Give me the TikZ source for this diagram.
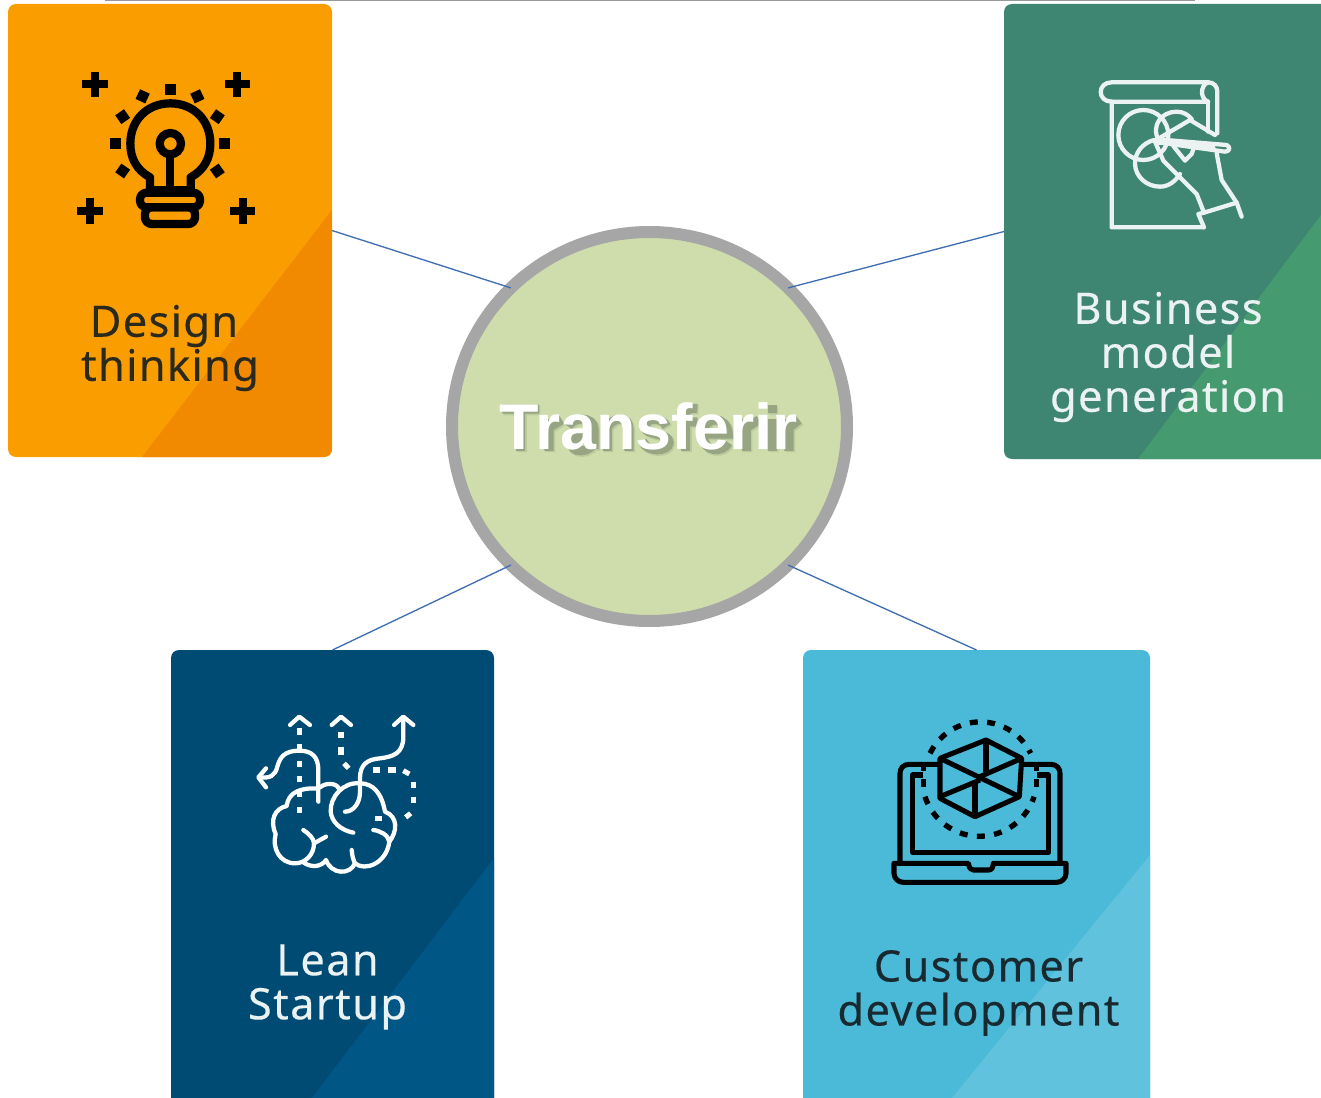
\documentclass[tikz,border=0pt]{standalone}
\usepackage{fontspec}
\usetikzlibrary{shapes.geometric}
\setmainfont{Liberation Sans}
\newfontfamily\cardfont[LetterSpace=3.2,FakeBold=0.25]{Noto Sans}
\definecolor{orangeA}{HTML}{F99D00}
\definecolor{orangeB}{HTML}{F28A00}
\definecolor{greenA}{HTML}{3F8672}
\definecolor{greenB}{HTML}{459A70}
\definecolor{navyA}{HTML}{004B73}
\definecolor{navyB}{HTML}{005685}
\definecolor{skyA}{HTML}{4BBAD8}
\definecolor{skyB}{HTML}{60C2DC}
\definecolor{hubfill}{HTML}{CEDDAB}
\definecolor{hubring}{HTML}{A6A6A6}
\definecolor{linkblue}{HTML}{3F6FB0}
\definecolor{inkdark}{HTML}{2A2A1C}
\definecolor{inksky}{HTML}{182A30}
\definecolor{inklight}{HTML}{EAF2F2}
\definecolor{shadeA}{HTML}{BCCB9F}
\definecolor{shadeB}{HTML}{97A582}
\tikzset{
  card/.style={rectangle,rounded corners=6pt,inner sep=0pt,outer sep=0pt},
  cardtext/.style={font=\cardfont\fontsize{32.5}{33}\selectfont,align=center,inner sep=0pt},
  link/.style={draw=linkblue,line width=1pt},
  hubnode/.style={ellipse,draw=hubring,fill=hubfill,line width=9pt,minimum width=296.25pt,minimum height=291.75pt,inner sep=0pt,outer sep=0pt},
  hubtext/.style={font=\fontsize{48.5}{50}\selectfont\bfseries,text=white,inner sep=0pt},
  iconlocal/.style={shift={(#1)},x=0.25pt,y=-0.25pt},
  thickicon/.style={line width=6.2pt,line join=round},
  thinicon/.style={line width=3.2pt,line join=round,line cap=round},
  laptopline/.style={line width=3.8pt,line join=round},
  dots/.style={line width=3.2pt}
}
\def\shadowletters{
  (30,70) -- (140,70) (85,70) -- (85,195)
  (170,100) -- (170,195) (170,125) -- (208,102)
  (228,122) .. controls (240,92) and (305,90) .. (305,130) -- (305,190)
  (305,145) .. controls (225,145) and (225,195) .. (265,195) .. controls (285,195) and (305,180) .. (305,165)
  (345,100) -- (345,195) (345,125) .. controls (365,90) and (410,90) .. (410,130) -- (410,195)
  (522,122) .. controls (510,90) and (455,95) .. (458,125) .. controls (462,150) and (530,140) .. (530,170) .. controls (530,200) and (460,200) .. (450,165)
  (580,195) -- (580,85) .. controls (580,70) and (595,65) .. (615,68) (555,108) -- (615,108)
  (628,145) -- (708,145) .. controls (705,90) and (635,85) .. (632,145) .. controls (632,205) and (695,200) .. (708,170)
  (762,100) -- (762,195) (762,125) -- (800,102)
  (840,100) -- (840,195) (840,58) -- (840,82)
  (890,100) -- (890,195) (890,125) -- (920,102)
}
\begin{document}
\begin{tikzpicture}[x=0.75pt,y=-0.75pt]
\clip (0,0) rectangle (1321,1098);
\fill[white] (0,0) rectangle (1321,1098);
\draw[color=black!40,line width=1.2pt] (105,0) -- (1195,0);
% cards
\node[card,fill=orangeA,minimum width=243pt,minimum height=339.75pt] (design) at (170,230.5) {};
\node[card,fill=greenA,minimum width=252pt,minimum height=341.25pt] (business) at (1172,231.5) {};
\node[card,fill=navyA,minimum width=242.25pt,minimum height=345pt] (lean) at (332.5,880) {};
\node[card,fill=skyA,minimum width=260.25pt,minimum height=345pt] (customer) at (976.5,880) {};
% diagonal bands
\begin{scope}\clip[rounded corners=6pt] (8,4) rectangle (332,457);
\fill[orangeB] (332,210) -- (142,457) -- (332,457) -- cycle;\end{scope}
\begin{scope}\clip[rounded corners=6pt] (1004,4) rectangle (1340,459);
\fill[greenB] (1321,215) -- (1138,459) -- (1321,459) -- cycle;\end{scope}
\fill[navyB] (494,858) -- (312,1098) -- (494,1098) -- cycle;
\fill[skyB] (1150,855) -- (952,1098) -- (1150,1098) -- cycle;
% hub
\node[hubnode] (hub) at (649.5,426.5) {};
\begin{scope}[shift={(490,383.5)},x=0.25pt,y=-0.25pt]
\begin{scope}[shift={(11,11)}]
\draw[shadeA,line width=7.2pt] \shadowletters;
\end{scope}
\begin{scope}[shift={(7,7)}]
\draw[shadeB,line width=6.8pt] \shadowletters;
\end{scope}
\end{scope}
\node[hubtext] (hubtitle) at (648.5,426.5) {Transferir};
% connectors
\draw[link] (design.east) -- (hub.135);
\draw[link] (business.west) -- (hub.45);
\draw[link] (lean.north) -- (hub.225);
\draw[link] (customer.north) -- (hub.315);
% labels
\node[cardtext,text=inkdark] (designlabel) at (170,348) {Design\hspace*{9pt}\\thinking};
\node[cardtext,text=inklight] (businesslabel) at (1168,357) {Business\\model\\generation};
\node[cardtext,text=inklight] (leanlabel) at (327.5,987) {Lean\\Startup};
\node[cardtext,text=inksky] (customerlabel) at (978.5,993) {Customer\\development};
% bulb icon
\begin{scope}[iconlocal={60,60}]
\foreach \px/\py in {105/73,532/73,90/453,548/453}{
  \fill (\px-38,\py-12) rectangle (\px+38,\py+12);
  \fill (\px-12,\py-38) rectangle (\px+12,\py+38);
}
\foreach \rx/\ry/\ra in {331/88/0,248/109/-25,412/109/25,188/170/-55,472/170/55,167/251/0,494/251/0,188/333/55,472/333/-55}{
  \fill[rotate around={\ra:(\rx,\ry)}] (\rx-16,\ry-16) rectangle (\rx+16,\ry+16);
}
\draw[thickicon] (270,390) -- (270,352) .. controls (230,330) and (211,295) .. (211,251) .. controls (211,180) and (262,130) .. (331,130) .. controls (400,130) and (451,180) .. (451,251) .. controls (451,295) and (432,330) .. (392,352) -- (392,390);
\draw[thickicon] (331,251) circle[radius=32];
\draw[thickicon] (331,283) -- (331,390);
\draw[thickicon] (270,390) -- (392,390);
\draw[thickicon,rounded corners=5pt] (240,398) rectangle (420,442);
\draw[thickicon,rounded corners=5pt] (255,442) rectangle (405,492);
\end{scope}
% flip-chart icon
\begin{scope}[iconlocal={1080,70},draw=inklight]
\draw[thinicon] (95,95) .. controls (75,95) and (62,82) .. (62,66) .. controls (62,50) and (75,37) .. (95,37) -- (385,37) .. controls (402,37) and (412,50) .. (412,65) -- (412,190);
\draw[thinicon] (385,37) .. controls (372,40) and (365,55) .. (366,70) .. controls (367,85) and (380,95) .. (385,95) -- (95,95) -- (95,472) -- (370,472);
\draw[thinicon] (385,95) -- (385,185);
\draw[thinicon] (190,195) circle[radius=75];
\draw[thinicon] (236,212) .. controls (212,165) and (245,125) .. (290,125) .. controls (310,125) and (325,135) .. (335,147);
\draw[thinicon] (222,210) .. controls (185,220) and (165,250) .. (165,280) .. controls (165,320) and (200,350) .. (240,350) .. controls (265,350) and (285,335) .. (300,312);
\draw[thinicon] (232,208) -- (330,150) -- (405,195);
\draw[thinicon] (232,208) -- (440,225) .. controls (452,230) and (450,245) .. (435,245) -- (270,222);
\draw[thinicon] (235,218) -- (400,232);
\draw[thinicon] (225,215) -- (250,272) -- (350,372) -- (372,428) -- (470,398) -- (485,440);
\draw[thinicon] (372,428) -- (355,432) -- (372,472);
\draw[thinicon] (410,250) -- (425,330) -- (470,398);
\draw[thinicon] (280,228) -- (315,272) -- (335,252) -- (342,232);
\end{scope}
% brain icon
\begin{scope}[iconlocal={240,700},draw=white]
\draw[thinicon] (150,75) -- (178,50) -- (210,75);
\draw[thinicon] (275,75) -- (303,50) -- (333,75);
\draw[thinicon] (462,75) -- (490,50) -- (520,75);
\draw[thinicon] (490,55) -- (490,110) .. controls (490,160) and (460,170) .. (420,175) .. controls (380,178) and (360,195) .. (360,235) -- (360,275) .. controls (360,310) and (340,335) .. (315,335);
\draw[thinicon] (235,305) -- (235,210) .. controls (235,170) and (215,152) .. (178,152) .. controls (135,152) and (120,170) .. (112,200) .. controls (105,228) and (90,235) .. (60,232);
\draw[thinicon] (78,205) -- (55,232) -- (78,262);
\foreach \ya/\yb in {85/105,132/150,182/200,228/245,273/292,320/340}{\draw[dots,line width=3.8pt] (178,\ya) -- (178,\yb);}
\draw[dots,line width=3.8pt] (303,95) -- (303,115);
\draw[dots,line width=3.8pt] (303,140) -- (303,165);
\draw[dots,line width=3.8pt] (312,190) -- (326,205);
\foreach \xa/\ya/\xb/\yb in {398/210/420/210,445/210/467/210,490/212/508/222,520/245/520/263,520/290/520/310,512/340/497/352,405/355/425/355}{\draw[dots,line width=3.8pt] (\xa,\ya) -- (\xb,\yb);}
\draw[thinicon] (240,262) .. controls (262,245) and (290,250) .. (300,268);
\draw[thinicon] (235,266) .. controls (185,262) and (145,275) .. (140,318) .. controls (105,325) and (88,360) .. (107,402) .. controls (95,445) and (120,490) .. (165,490) .. controls (195,490) and (222,465) .. (222,430) .. controls (222,415) and (205,400) .. (190,390);
\draw[thinicon] (222,430) -- (258,410);
\draw[thinicon] (190,487) .. controls (215,505) and (245,500) .. (258,480) .. controls (275,525) and (330,525) .. (345,490) .. controls (375,515) and (440,490) .. (448,425) .. controls (445,405) and (420,392) .. (400,390);
\draw[thinicon] (335,450) .. controls (337,470) and (340,480) .. (345,490);
\draw[thinicon] (448,425) .. controls (472,395) and (475,350) .. (435,335) .. controls (425,280) and (400,250) .. (360,250) .. controls (310,245) and (270,290) .. (272,335) .. controls (275,365) and (300,390) .. (340,398);
\end{scope}
% laptop icon
\begin{scope}[iconlocal={880,705}]
\draw[laptopline] (175,178) -- (88,178) .. controls (70,178) and (60,190) .. (60,205) -- (60,470);
\draw[laptopline] (425,178) -- (512,178) .. controls (530,178) and (540,190) .. (540,205) -- (540,470);
\draw[laptopline] (130,210) -- (97,210) -- (97,442) -- (505,442) -- (505,210) -- (470,210);
\draw[laptopline] (42,475) -- (265,475) .. controls (268,490) and (272,495) .. (280,495) -- (325,495) .. controls (335,495) and (338,490) .. (340,475) -- (558,475) -- (558,505) .. controls (558,520) and (545,532) .. (530,532) -- (70,532) .. controls (55,532) and (42,520) .. (42,505) -- cycle;
\draw[laptopline] (130,185) -- (130,198);
\draw[laptopline] (130,222) -- (130,245);
\draw[laptopline] (470,185) -- (470,198);
\draw[laptopline] (470,222) -- (470,245);
\draw[laptopline] (318,105) -- (425,160) -- (418,275) -- (285,335) -- (180,280) -- (180,160) -- cycle;
\draw[laptopline] (180,160) -- (418,275);
\draw[laptopline] (318,105) -- (318,200);
\draw[laptopline] (285,335) -- (285,235);
\draw[laptopline] (425,160) -- (300,215);
\draw[laptopline] (180,275) -- (300,225);
\draw[line width=4pt,dash pattern=on 6pt off 7pt] (150,145) arc[start angle=206,end angle=334,radius=168];
\draw[line width=4pt,dash pattern=on 6pt off 7pt] (135,275) arc[start angle=162,end angle=18,radius=172];
\end{scope}
\end{tikzpicture}
\end{document}
